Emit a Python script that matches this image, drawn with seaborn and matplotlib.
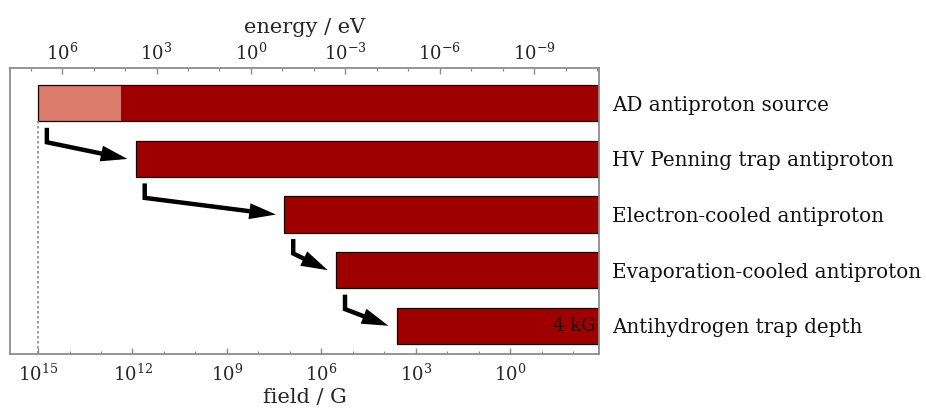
import numpy as np
import pandas as pd
import matplotlib
matplotlib.use("Agg")
import matplotlib.pyplot as plt
import matplotlib.ticker as mticker
from matplotlib.patches import FancyArrowPatch
from matplotlib.path import Path
import seaborn as sns

# ---------------- data ----------------
stages = ["AD antiproton source", "HV Penning trap antiproton",
          "Electron-cooled antiproton", "Evaporation-cooled antiproton",
          "Antihydrogen trap depth"]
field_start = [1.0e15, 7.8e11, 1.5e7, 3.4e5, 4.0e3]      # G, left end of each bar
core_start = [2.3e12, 7.8e11, 1.5e7, 3.4e5, 4.0e3]       # G, start of the dark part
field_ticks = [1e15, 1e12, 1e9, 1e6, 1e3, 1e0]
energy_ticks = [1e6, 1e3, 1e0, 1e-3, 1e-6, 1e-9]
EV_PER_G = 5.788e-9                                        # Bohr magneton, eV/G
trap_label = "4 kG"

dark = "#9e0000"
light = "#db7b6b"
grey = "#8c8c8c"

sns.set_theme(style="white")
plt.rcParams["font.family"] = ["DejaVu Serif"]
plt.rcParams["mathtext.fontset"] = "dejavuserif"

fig = plt.figure(figsize=(9.26, 4.16), dpi=100)
ax = fig.add_axes([0.0108, 0.1483, 0.6366, 0.6882])
ax.set_xscale("log")

df_full = pd.DataFrame({"stage": stages, "field": field_start})
df_core = pd.DataFrame({"stage": stages, "field": core_start})

bw = 0.653
sns.barplot(data=df_full, x="field", y="stage", order=stages, orient="h",
            color=light, saturation=1, errorbar=None, width=bw,
            linewidth=0, ax=ax)
sns.barplot(data=df_core, x="field", y="stage", order=stages, orient="h",
            color=dark, saturation=1, errorbar=None, width=bw,
            linewidth=0, ax=ax)
sns.barplot(data=df_full, x="field", y="stage", order=stages, orient="h",
            color="#1a0000", saturation=1, errorbar=None, width=bw,
            fill=False, linewidth=0.9, ax=ax)

ax.set_xlim(10**15.89, 10**-2.83)
ax.set_ylim(4.513, -0.635)

# dotted guide at source energy
ax.vlines(field_start[0], 0 + bw / 2, 4.513, colors=grey, linestyles=(0, (1.5, 1.5)), lw=1.2)

# arrows between stages
for i in range(len(stages) - 1):
    x0 = field_start[i] * 10**-0.28
    x1 = field_start[i + 1] * 10**0.27
    verts = [(x0, i + 0.44), (x0, i + 0.70), (x1, i + 1.0)]
    arr = FancyArrowPatch(path=Path(verts),
                          arrowstyle="-|>,head_length=1.2,head_width=0.36",
                          lw=3.2, color="black", mutation_scale=10,
                          joinstyle="miter", capstyle="butt", zorder=5)
    ax.add_patch(arr)

# 4 kG label
ax.annotate(trap_label, xy=(1, 4), xycoords=("axes fraction", "data"),
            xytext=(-3, 0), textcoords="offset points", ha="right", va="center",
            fontsize=13, color="#2a0505")

# axes styling
for s in ax.spines.values():
    s.set_color(grey)
    s.set_linewidth(1.3)
ax.yaxis.set_ticks_position("right")
ax.tick_params(axis="y", length=0, pad=9, labelsize=14.3, labelcolor="#111111")
ax.set_ylabel("")

fmt = mticker.FuncFormatter(lambda v, _: r"$10^{%d}$" % int(round(np.log10(v))))
ax.xaxis.set_major_locator(mticker.FixedLocator(field_ticks))
ax.xaxis.set_minor_locator(mticker.LogLocator(base=10, subs=(1.0,), numticks=40))
ax.xaxis.set_minor_formatter(mticker.NullFormatter())
ax.xaxis.set_major_formatter(fmt)
ax.tick_params(axis="x", which="major", direction="in", length=4, width=1,
               color=grey, labelsize=13, pad=7, bottom=True)
ax.tick_params(axis="x", which="minor", direction="in", length=2.5, width=0.8,
               color=grey, bottom=True)
ax.set_xlabel("field / G", fontsize=15, labelpad=2)

sec = ax.secondary_xaxis("top", functions=(lambda f: f * EV_PER_G,
                                            lambda e: e / EV_PER_G))
sec.xaxis.set_major_locator(mticker.FixedLocator(energy_ticks))
sec.xaxis.set_minor_locator(mticker.LogLocator(base=10, subs=(1.0,), numticks=40))
sec.xaxis.set_minor_formatter(mticker.NullFormatter())
sec.xaxis.set_major_formatter(fmt)
sec.tick_params(axis="x", which="major", direction="in", length=4, width=1,
                color=grey, labelsize=13, pad=3)
sec.tick_params(axis="x", which="minor", direction="in", length=2.5, width=0.8,
                color=grey)
sec.spines["top"].set_visible(False)
sec.set_xlabel("energy / eV", fontsize=15, labelpad=7)

fig.savefig("out.png", dpi=100)
